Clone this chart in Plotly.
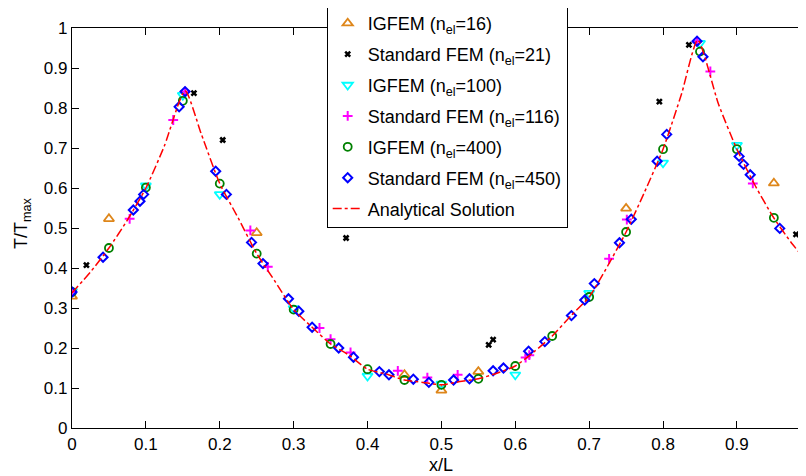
import plotly.graph_objects as go

# ---- data ----
igfem16_x = [0.0, 0.05, 0.25, 0.45, 0.50, 0.55, 0.75, 0.95]
igfem16_y = [0.329, 0.523, 0.488, 0.133, 0.094, 0.141, 0.549, 0.612]

fem21_x = [0.0195, 0.165, 0.204, 0.371, 0.564, 0.570, 0.795, 0.835, 0.980]
fem21_y = [0.407, 0.837, 0.720, 0.475, 0.208, 0.221, 0.816, 0.958, 0.484]

igfem100_x = [0.0, 0.1, 0.15, 0.2, 0.3, 0.4, 0.5, 0.6, 0.7, 0.8, 0.85, 0.9]
igfem100_y = [0.342, 0.606, 0.832, 0.584, 0.299, 0.130, 0.110, 0.133, 0.337, 0.663, 0.962, 0.707]

fem116_x = [0.0, 0.078, 0.137, 0.153, 0.2414, 0.265, 0.335, 0.350, 0.377, 0.441,
            0.481, 0.522, 0.614, 0.619, 0.727, 0.751, 0.846, 0.864, 0.9215]
fem116_y = [0.340, 0.523, 0.770, 0.841, 0.494, 0.403, 0.250, 0.222, 0.189, 0.143,
            0.126, 0.133, 0.176, 0.182, 0.423, 0.521, 0.967, 0.8915, 0.6115]

igfem400_x = [0.0, 0.05, 0.1, 0.15, 0.2, 0.25, 0.3, 0.35, 0.4, 0.45,
              0.5, 0.55, 0.6, 0.65, 0.7, 0.75, 0.8, 0.85, 0.9, 0.95]
igfem400_y = [0.340, 0.450, 0.601, 0.818, 0.611, 0.436, 0.296, 0.210, 0.147, 0.120,
              0.108, 0.123, 0.155, 0.230, 0.3275, 0.490, 0.697, 0.941, 0.697, 0.5255]

fem450_x = [0.0, 0.042, 0.083, 0.092, 0.097, 0.145, 0.153, 0.1945, 0.209, 0.243,
            0.2585, 0.293, 0.307, 0.325, 0.361, 0.381, 0.416, 0.429, 0.462, 0.483,
            0.5165, 0.538, 0.570, 0.584, 0.618, 0.640, 0.676, 0.694, 0.707, 0.741,
            0.757, 0.792, 0.805, 0.846, 0.854, 0.903, 0.909, 0.918, 0.958]
fem450_y = [0.340, 0.427, 0.545, 0.567, 0.584, 0.803, 0.841, 0.642, 0.584, 0.464,
            0.411, 0.323, 0.292, 0.252, 0.200, 0.177, 0.141, 0.133, 0.122, 0.114,
            0.120, 0.123, 0.143, 0.150, 0.192, 0.216, 0.281, 0.320, 0.361, 0.463,
            0.522, 0.667, 0.734, 0.967, 0.928, 0.679, 0.659, 0.633, 0.499]

exact_x = [0.0, 0.025, 0.05, 0.075, 0.1, 0.125, 0.153, 0.175, 0.2, 0.225, 0.25, 0.275,
           0.3, 0.325, 0.35, 0.375, 0.4, 0.425, 0.45, 0.475, 0.5, 0.525, 0.55, 0.575,
           0.6, 0.625, 0.65, 0.675, 0.7, 0.725, 0.75, 0.775, 0.8, 0.825, 0.847, 0.875,
           0.9, 0.925, 0.95, 0.975, 1.0]
exact_y = [0.338, 0.390, 0.450, 0.520, 0.600, 0.705, 0.843, 0.735, 0.611, 0.525, 0.436, 0.366,
           0.296, 0.252, 0.210, 0.182, 0.147, 0.135, 0.120, 0.114, 0.108, 0.116, 0.123, 0.137,
           0.155, 0.190, 0.230, 0.280, 0.3275, 0.405, 0.490, 0.590, 0.697, 0.835, 0.970, 0.810,
           0.697, 0.605, 0.525, 0.460, 0.405]

tick_vals = [0, 0.1, 0.2, 0.3, 0.4, 0.5, 0.6, 0.7, 0.8, 0.9, 1]
tick_text = ["0", "0.1", "0.2", "0.3", "0.4", "0.5", "0.6", "0.7", "0.8", "0.9", "1"]

names = ["IGFEM (n<sub>el</sub>=16)", "Standard FEM (n<sub>el</sub>=21)",
         "IGFEM (n<sub>el</sub>=100)", "Standard FEM (n<sub>el</sub>=116)",
         "IGFEM (n<sub>el</sub>=400)", "Standard FEM (n<sub>el</sub>=450)",
         "Analytical Solution"]

FONT = "Liberation Sans, Arial, Helvetica, sans-serif"

fig = go.Figure()

def mk(x, y, name, symbol, color, size, lw, grp):
    fig.add_trace(go.Scatter(
        x=x, y=y, mode="markers", name=name, legendgroup=grp,
        marker=dict(symbol=symbol, size=size, color=color,
                    line=dict(color=color, width=lw))))

mk(igfem16_x, igfem16_y, names[0], "triangle-up-open", "#DE861A", 9, 1.8, "a")
mk(fem21_x, fem21_y, names[1], "x-thin-open", "black", 5, 2.5, "b")
mk(igfem100_x, igfem100_y, names[2], "triangle-down-open", "#00FFFF", 9, 1.8, "c")
mk(fem116_x, fem116_y, names[3], "cross-thin-open", "#FF00FF", 7, 2, "d")
mk(igfem400_x, igfem400_y, names[4], "circle-open", "#008000", 8, 1.8, "e")
mk(fem450_x, fem450_y, names[5], "diamond-open", "#0000FF", 7, 2, "f")

fig.add_trace(go.Scatter(
    x=exact_x, y=exact_y, mode="lines", name=names[6], legendgroup="g",
    line=dict(color="red", width=1.5, dash="dashdot", shape="spline", smoothing=0.6)))

axis_common = dict(
    showgrid=False, zeroline=False, showline=True, linecolor="black", linewidth=1.2,
    ticks="inside", ticklen=7, tickcolor="black", tickwidth=1,
    mirror="ticks", tickvals=tick_vals, ticktext=tick_text, automargin=False,
    tickfont=dict(family=FONT, size=17, color="black"))

fig.update_xaxes(range=[0, 0.9935], **axis_common)
fig.update_yaxes(range=[0, 1], **axis_common)

# the page body adds an 8px offset, so the figure is 8px smaller and margins are shifted
fig.update_layout(
    width=798, height=468,
    margin=dict(l=64, r=0, t=20, b=48, autoexpand=False),
    paper_bgcolor="white", plot_bgcolor="white",
    font=dict(family=FONT, size=17, color="black"),
    showlegend=True,
    legend=dict(x=0.347, y=1.06, xanchor="left", yanchor="top",
                bgcolor="white", bordercolor="black", borderwidth=1,
                font=dict(family=FONT, size=18, color="black"),
                tracegroupgap=4.5, itemwidth=30),
    annotations=[
        dict(text="x/L", x=0.5, y=-0.0925, xref="x", yref="paper",
             xanchor="center", yanchor="middle",
             showarrow=False, font=dict(family=FONT, size=18)),
        dict(text="T/T<sub>max</sub>", x=-0.068, y=0.51, xref="paper", yref="paper",
             xanchor="center", yanchor="middle",
             textangle=-90, showarrow=False, font=dict(family=FONT, size=18)),
    ],
)

fig.write_html("out.html")
